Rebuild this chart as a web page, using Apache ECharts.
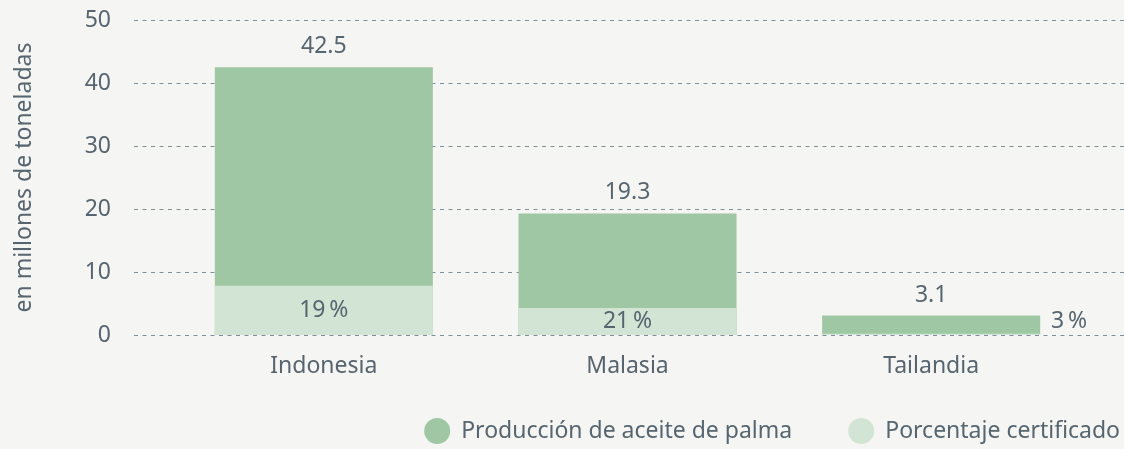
<!DOCTYPE html>
<html>
<head>
<meta charset="utf-8">
<script src="https://cdn.jsdelivr.net/npm/echarts@6/dist/echarts.min.js"></script>
<style>
  html, body { margin: 0; padding: 0; background: #f5f5f3; }
  #main { width: 1124px; height: 449px; }
</style>
</head>
<body>
<div id="main"></div>
<script>
    var paises = ['Indonesia', 'Malasia', 'Tailandia'];
    var produccion = [42.5, 19.3, 3.1];          // millones de toneladas
    var certificado = [7.8, 4.3, 0.2];           // parte certificada (millones t)
    var porcentaje = ['19\u2009%', '21\u2009%', '3\u2009%'];
    var yTicks = [0, 10, 20, 30, 40, 50];

    var texto = '#56656f';
    var fuente = 'Noto Sans';
    var tam = 23;

    var myChart = echarts.init(document.getElementById('main'));

    // etiquetas de la serie certificada; Tailandia va a la derecha de la barra
    var datosCert = certificado.map(function (v, i) {
        var item = { value: v };
        if (v < 1) {
            item.label = { position: ['105%', -12], align: 'left', verticalAlign: 'middle' };
        }
        return item;
    });

    option1 = {
        backgroundColor: '#f5f5f3',
        textStyle: { fontFamily: fuente },
        legend: {
            right: 4,
            top: 418,
            padding: 0,
            icon: 'circle',
            itemWidth: 26,
            itemHeight: 26,
            itemGap: 56,
            textStyle: { color: texto, fontSize: tam, fontFamily: fuente, padding: [0, 0, 0, 6] },
            data: ['Producción de aceite de palma', 'Porcentaje certificado']
        },
        grid: [
            { left: 134, right: 0, top: 20, bottom: 114 },
            { left: 172, right: 41, top: 20, bottom: 114 }
        ],
        xAxis: [
            { type: 'category', gridIndex: 0, data: paises, show: false },
            {
                type: 'category',
                gridIndex: 1,
                data: paises,
                axisLine: { show: false },
                axisTick: { show: false },
                axisLabel: { color: texto, fontSize: tam, fontFamily: fuente, margin: 20 }
            }
        ],
        yAxis: [
            {
                type: 'value',
                gridIndex: 0,
                min: yTicks[0],
                max: yTicks[yTicks.length - 1],
                interval: 10,
                name: 'en millones de toneladas',
                nameLocation: 'middle',
                nameGap: 98,
                nameTextStyle: { color: texto, fontSize: tam, fontFamily: fuente },
                axisLine: { show: false },
                axisTick: { show: false },
                axisLabel: { color: texto, fontSize: tam, fontFamily: fuente, margin: 23 },
                splitLine: { lineStyle: { color: '#7f909b', type: [4, 4.5], width: 1 } }
            },
            {
                type: 'value',
                gridIndex: 1,
                min: yTicks[0],
                max: yTicks[yTicks.length - 1],
                interval: 10,
                show: false,
                splitLine: { show: false }
            }
        ],
        series: [
            {
                name: 'Producción de aceite de palma',
                type: 'bar',
                xAxisIndex: 1,
                yAxisIndex: 1,
                barWidth: '71.8%',
                barGap: '-100%',
                itemStyle: { color: '#9fc7a4' },
                label: {
                    show: true,
                    position: 'top',
                    distance: 9,
                    color: texto,
                    fontSize: tam,
                    fontFamily: fuente
                },
                data: produccion
            },
            {
                name: 'Porcentaje certificado',
                type: 'bar',
                xAxisIndex: 1,
                yAxisIndex: 1,
                barWidth: '71.8%',
                barGap: '-100%',
                itemStyle: { color: '#d2e5d5' },
                label: {
                    show: true,
                    position: 'inside',
                    color: texto,
                    fontSize: tam,
                    fontFamily: fuente,
                    formatter: function (p) { return porcentaje[p.dataIndex]; }
                },
                labelLayout: { hideOverlap: false },
                data: datosCert
            }
        ]
    };

    myChart.setOption(option1);
</script>
</body>
</html>
